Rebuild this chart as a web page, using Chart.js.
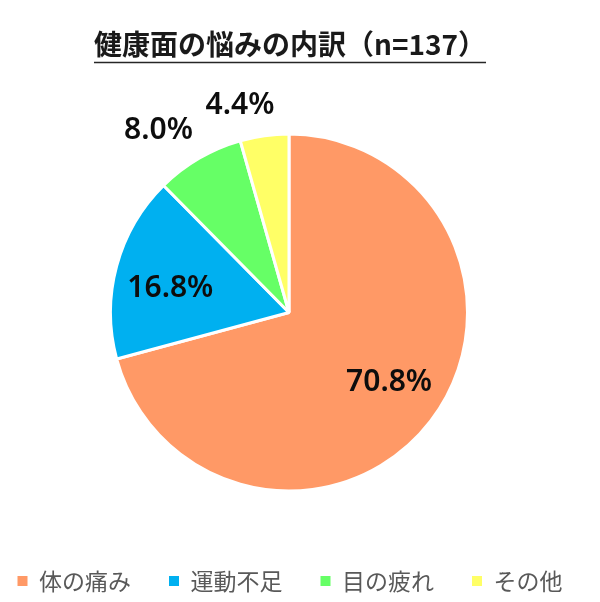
<!DOCTYPE html>
<html>
<head>
<meta charset="utf-8">
<script src="https://cdn.jsdelivr.net/npm/chart.js@4/dist/chart.umd.min.js"></script>
<style>
html,body{margin:0;padding:0;background:#fff;}
#wrap{width:600px;height:602px;}
</style>
</head>
<body>
<div id="wrap"><canvas id="c" width="600" height="602"></canvas></div>
<script>
const titleText = '健康面の悩みの内訳（n=137）';
const categories = ['体の痛み', '運動不足', '目の疲れ', 'その他'];
const percentValues = [70.8, 16.8, 8.0, 4.4];
const sliceColors = ['#FF9966', '#00B0F0', '#66FF66', '#FFFF66'];

// plot-area adjustment: keeps the pie slightly left of the canvas centre,
// and leaves a gap between the pie and the legend (like Excel's plot area)
const plotAreaPlugin = {
  id: 'plotArea',
  afterLayout(chart) {
    const ca = chart.chartArea;
    ca.left = 0;
    ca.right = chart.width - 22;
    ca.bottom = chart.legend.top - 39.5;
    ca.width = ca.right - ca.left;
    ca.height = ca.bottom - ca.top;
  }
};

const underlinePlugin = {
  id: 'titleUnderline',
  afterDraw(chart) {
    const tb = chart.titleBlock;
    if (!tb) return;
    const ctx = chart.ctx;
    const o = chart.options.plugins.title;
    ctx.save();
    ctx.font = `${o.font.weight} ${o.font.size}px ${o.font.family}`;
    const w = ctx.measureText(o.text).width;
    const cx = (tb.left + tb.right) / 2;
    const cy = tb.top + o.padding.top + o.font.size * 1.2 / 2;
    const y = Math.round(cy + 17) + 0.5;
    ctx.strokeStyle = '#262626';
    ctx.lineWidth = 1.5;
    ctx.beginPath();
    ctx.moveTo(cx - w / 2, y);
    ctx.lineTo(cx + w / 2, y);
    ctx.stroke();
    ctx.restore();
  }
};

const labelPlugin = {
  id: 'sliceLabels',
  afterDatasetsDraw(chart) {
    const ctx = chart.ctx;
    const meta = chart.getDatasetMeta(0);
    const data = chart.data.datasets[0].data;
    ctx.save();
    ctx.font = '600 30px "Noto Sans"';
    ctx.fillStyle = '#0d0d0d';
    ctx.textAlign = 'center';
    ctx.textBaseline = 'middle';
    meta.data.forEach((arc, i) => {
      const p = arc.getProps(['x', 'y', 'startAngle', 'endAngle', 'outerRadius'], true);
      const mid = (p.startAngle + p.endAngle) / 2;
      const txt = data[i].toFixed(1) + '%';
      const w = ctx.measureText(txt).width;
      let ang, d;
      if (data[i] > 10) {
        ang = mid - 3 * Math.PI / 180;
        d = p.outerRadius * 0.68;
      } else {
        ang = mid - 5.3 * Math.PI / 180;
        const ext = Math.abs(Math.cos(ang)) * w / 2 + Math.abs(Math.sin(ang)) * 11;
        d = p.outerRadius + 17 + ext;
      }
      ctx.fillText(txt, p.x + Math.cos(ang) * d, p.y + Math.sin(ang) * d + 1);
    });
    ctx.restore();
  }
};

new Chart(document.getElementById('c'), {
  type: 'pie',
  data: {
    labels: categories,
    datasets: [{
      data: percentValues,
      backgroundColor: sliceColors,
      borderColor: '#ffffff',
      borderWidth: 3
    }]
  },
  options: {
    responsive: false,
    animation: false,
    devicePixelRatio: 1,
    radius: 178.5,
    layout: { padding: { left: -40, right: -20, top: 0, bottom: -0.5 } },
    plugins: {
      tooltip: { enabled: false },
      title: {
        display: true,
        text: titleText,
        color: '#1a1a1a',
        font: { family: '"Noto Sans CJK JP"', size: 28, weight: 'bold' },
        padding: { top: 28, bottom: 71.4 }
      },
      legend: {
        display: true,
        position: 'bottom',
        labels: {
          boxWidth: 10,
          boxHeight: 10,
          padding: 38,
          color: '#595959',
          font: { family: '"Noto Sans CJK JP"', size: 23 },
          generateLabels(chart) {
            return Chart.overrides.pie.plugins.legend.labels.generateLabels(chart)
              .map(l => Object.assign(l, { lineWidth: 0 }));
          }
        }
      }
    }
  },
  plugins: [plotAreaPlugin, underlinePlugin, labelPlugin]
});
</script>
</body>
</html>
